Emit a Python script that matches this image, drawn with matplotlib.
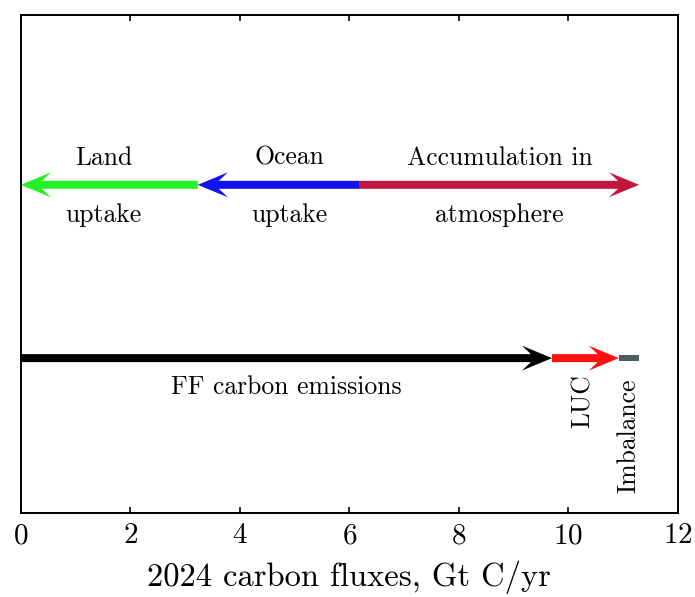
import matplotlib
matplotlib.use("Agg")
import matplotlib.pyplot as plt

plt.rcParams['font.family'] = 'serif'
plt.rcParams['font.serif'] = ['cmr10']
plt.rcParams['mathtext.fontset'] = 'cm'
plt.rcParams['axes.formatter.use_mathtext'] = True

# 2024 budget, Gt C/yr
sink_top = ["Land", "Ocean", "Accumulation in"]
sink_bottom = ["uptake", "uptake", "atmosphere"]
sink_values = [3.23, 2.96, 5.10]
sink_colors = ['#25f025', '#1212ee', '#c3163e']

source_labels = ["FF carbon emissions", "LUC", "Imbalance"]
source_values = [9.70, 1.22, 0.37]
source_colors = ['#000000', '#ff1010', '#4a5e5e']

fig = plt.figure(figsize=(6.95, 5.97), dpi=100)
ax = fig.add_axes([0.030, 0.1407, 0.9455, 0.8342])
ax.set_xlim(0, 12)
ax.set_ylim(0, 1)

y_top = 0.659
y_bot = 0.311
shaft = 0.016
hw = 0.05
hl = 0.55
fs = 18.5


def flux_arrow(x0, dx, y, color):
    ax.arrow(x0, y, dx, 0, width=shaft, head_width=hw, head_length=hl,
             length_includes_head=True, overhang=0.3, color=color, lw=0)


# sinks: land and ocean point left, atmosphere points right
land_end = sink_values[0]
ocean_end = land_end + sink_values[1]
atm_end = ocean_end + sink_values[2]
flux_arrow(land_end, -sink_values[0], y_top, sink_colors[0])
flux_arrow(ocean_end, -sink_values[1], y_top, sink_colors[1])
flux_arrow(ocean_end, sink_values[2], y_top, sink_colors[2])

centers = [land_end / 2 - 0.1, (land_end + ocean_end) / 2 + 0.2, (ocean_end + atm_end) / 2]
for cx, t1, t2 in zip(centers, sink_top, sink_bottom):
    ax.text(cx, 0.713, t1, ha='center', va='center', fontsize=fs)
    ax.text(cx, 0.598, t2, ha='center', va='center', fontsize=fs)

# sources stacked left to right
ff_end = source_values[0]
luc_end = ff_end + source_values[1]
imb_end = luc_end + source_values[2]
flux_arrow(0, source_values[0], y_bot, source_colors[0])
flux_arrow(ff_end, source_values[1], y_bot, source_colors[1])
ax.barh(y_bot, source_values[2], left=luc_end, height=shaft * 0.8, color=source_colors[2])

ax.text(ff_end / 2, y_bot - 0.058, source_labels[0], ha='center', va='center', fontsize=fs)
ax.text((ff_end + luc_end) / 2 - 0.05, y_bot - 0.086, source_labels[1], ha='center', va='center',
        rotation=90, fontsize=fs)
ax.text((luc_end + imb_end) / 2, y_bot - 0.156, source_labels[2], ha='center', va='center',
        rotation=90, fontsize=fs)

ax.set_xticks(range(0, 13, 2))
ax.set_yticks([])
ax.tick_params(axis='x', direction='in', top=True, length=4, width=1.2, labelsize=21, pad=7)
for s in ax.spines.values():
    s.set_linewidth(1.4)
ax.set_xlabel("2024 carbon fluxes, Gt C/yr", fontsize=23.5, labelpad=8)

fig.savefig("out.png", dpi=100)
